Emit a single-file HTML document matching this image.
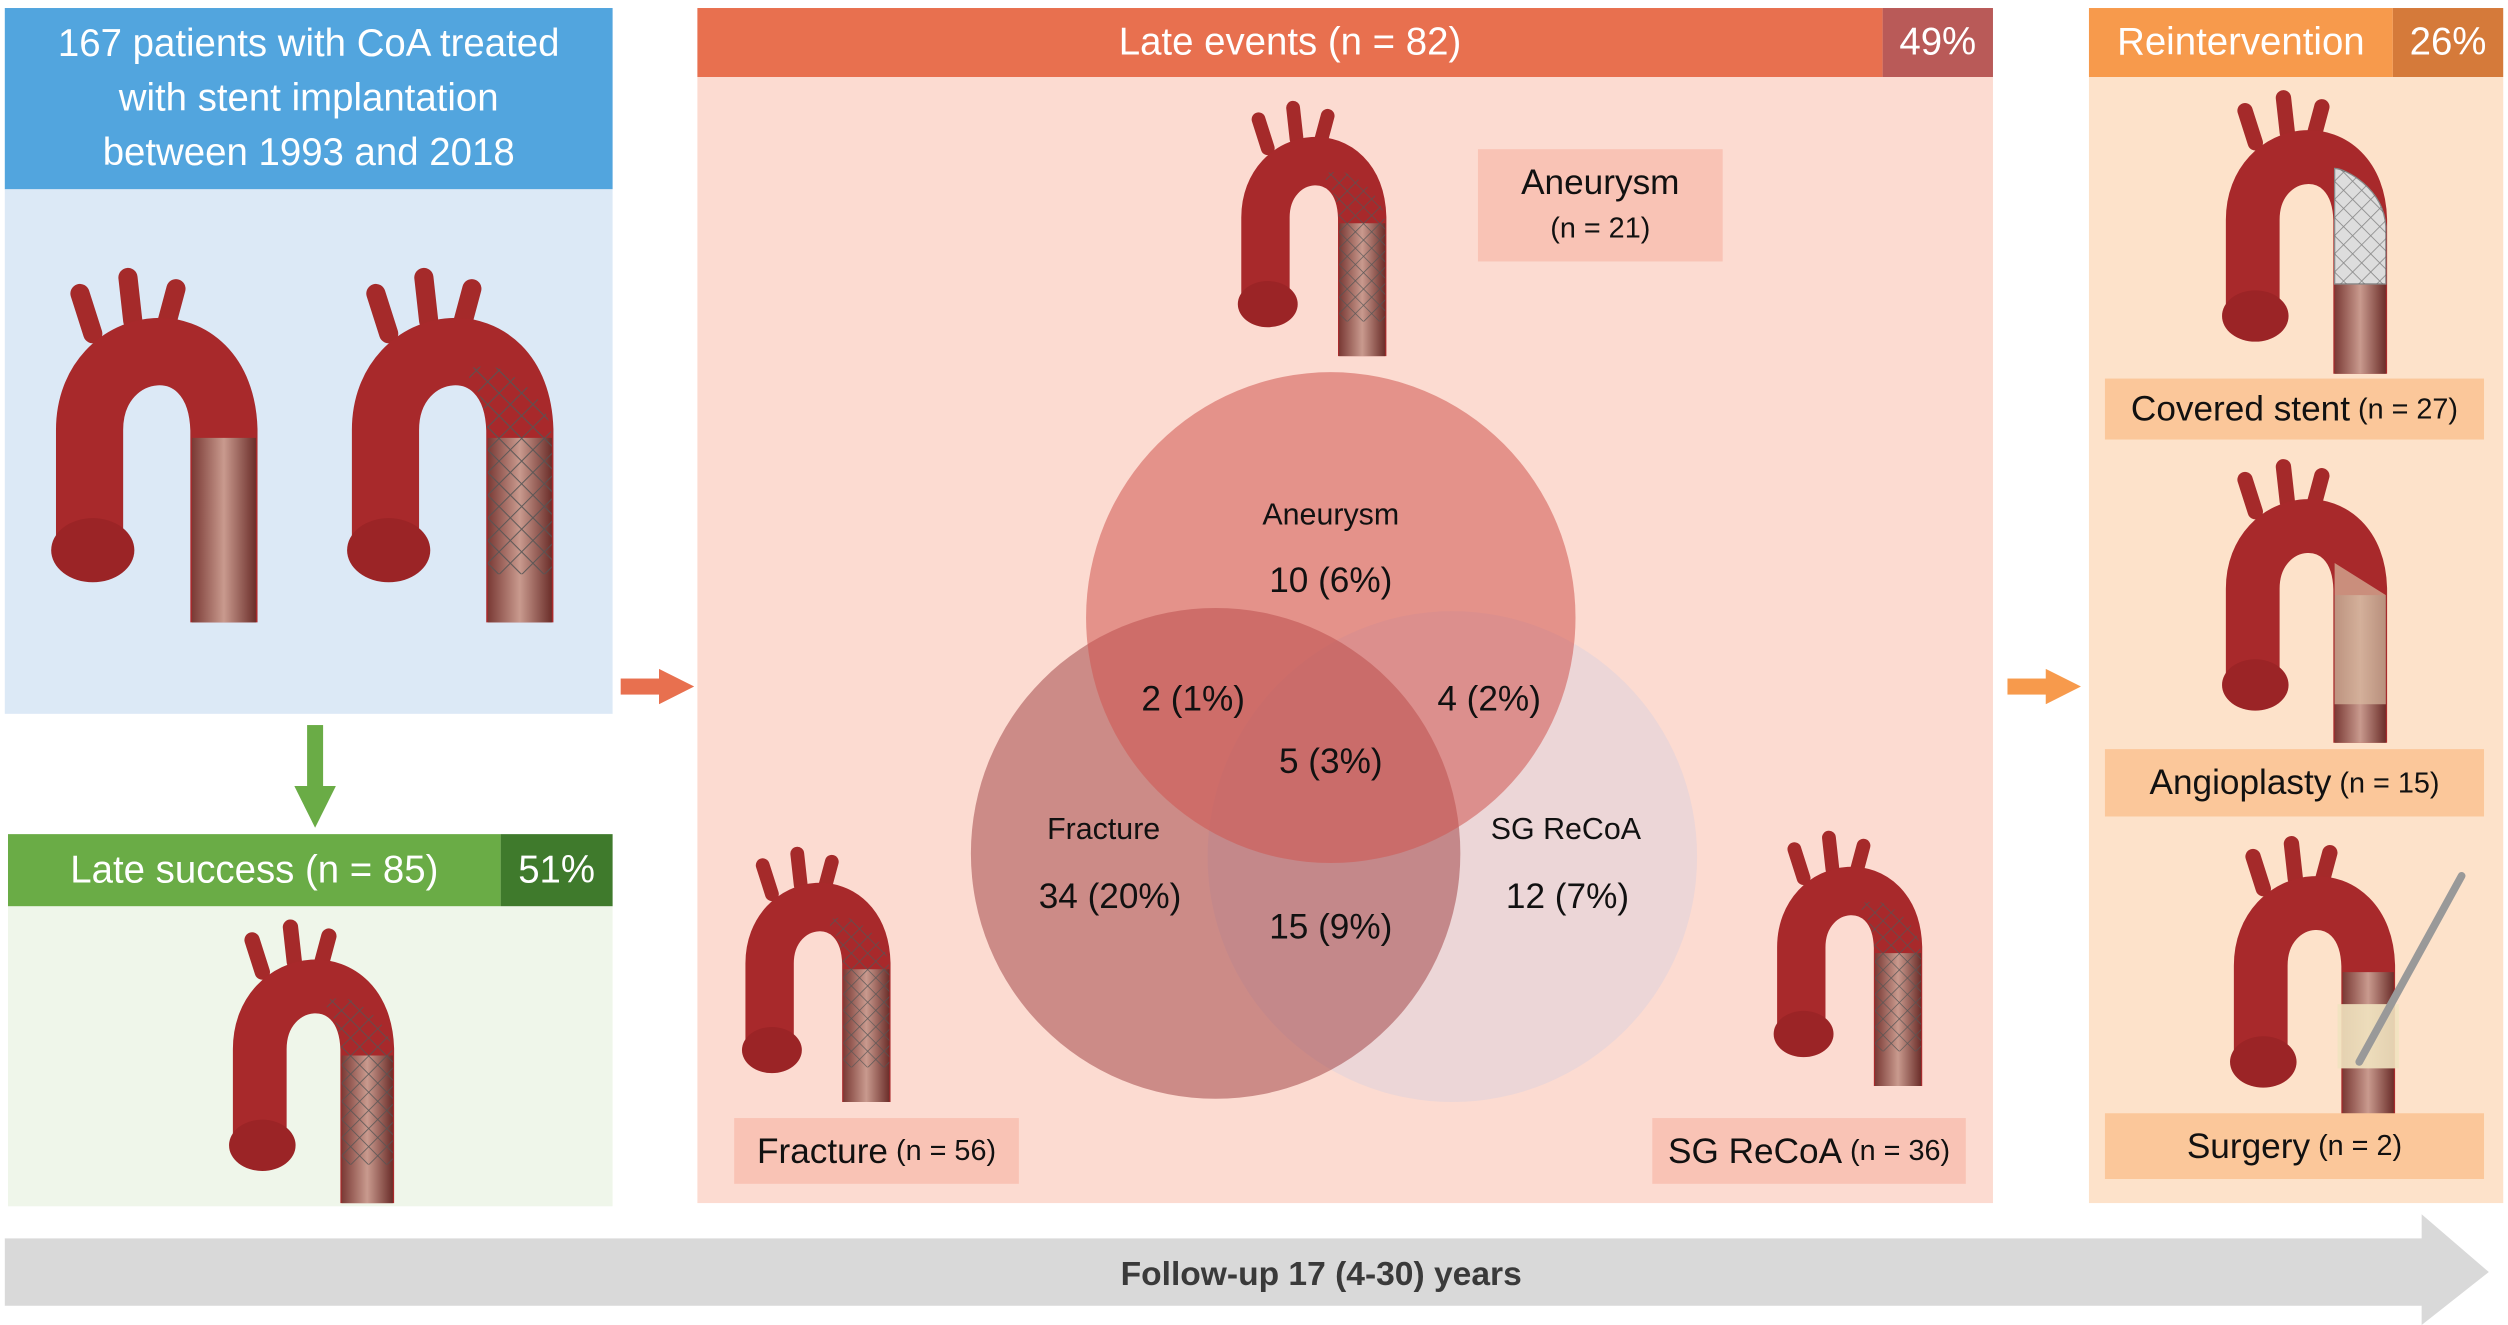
<!DOCTYPE html>
<html><head><meta charset="utf-8">
<style>
html,body{margin:0;padding:0;background:#fff;overflow:hidden}
#root{position:absolute;left:0;top:0;width:1568px;height:826px;transform-origin:0 0;transform:scale(1.5995,1.6041);font-family:"Liberation Sans",sans-serif}
.abs{position:absolute}
.hdr{color:#fff;font-size:24px;display:flex;align-items:center;justify-content:center}
.lbl{position:absolute;background:#f9c3b5;display:flex;align-items:center;justify-content:center;font-size:22px;color:#111}
.lbl small{font-size:18px;margin-left:5px}
.rl{background:#fbc79a}
</style></head><body>
<div id="root">
<svg width="0" height="0" style="position:absolute">
<defs>
<pattern id="mesh" width="10" height="10" patternUnits="userSpaceOnUse" patternTransform="rotate(45)">
<rect width="10" height="10" fill="none"/><path d="M0 0H10M0 0V10" stroke="#555" stroke-width="1.3"/></pattern>
<linearGradient id="desc" x1="0" x2="1"><stop offset="0" stop-color="#7a3a35"/><stop offset=".5" stop-color="#c99a8e"/><stop offset="1" stop-color="#6b2e2a"/></linearGradient>
<g id="aorta">
<path d="M30 20 L22 -5 M55 12 L52 -15 M75 18 L82 -8" stroke="#a52a2a" stroke-width="12" stroke-linecap="round" fill="none"/>
<path d="M28 150 L28 80 C28 20 110 10 112 80 L112 200" stroke="#a8292b" stroke-width="42" fill="none"/>
<ellipse cx="30" cy="155" rx="26" ry="20" fill="#9b2426"/>
<path d="M92 85 L92 200 L132 200 L132 85 Z" fill="url(#desc)"/>
</g>
<g id="aortaS">
<use href="#aorta"/>
<path d="M92 40 C100 40 130 55 132 85 L132 170 L92 170 L92 85 C92 60 80 45 75 42 Z" fill="url(#mesh)" opacity=".9"/>
</g>
</defs></svg>

<!-- left -->
<div class="abs hdr" style="left:3px;top:5px;width:380px;height:113px;background:#52a5de;text-align:center;line-height:34px">167 patients with CoA treated<br>with stent implantation<br>between 1993 and 2018</div>
<div class="abs" style="left:3px;top:118px;width:380px;height:327px;background:#dce9f6">
<svg width="380" height="327"><use href="#aorta" transform="translate(25,70) scale(1.0)"/><use href="#aortaS" transform="translate(210,70) scale(1.0)"/></svg></div>
<svg class="abs" style="left:184px;top:452px" width="26" height="66"><rect x="8" y="0" width="10" height="40" fill="#6aac46"/><path d="M0 38 H26 L13 64 Z" fill="#6aac46"/></svg>
<div class="abs hdr" style="left:5px;top:520px;width:308px;height:45px;background:#6aac46">Late success (n = 85)</div>
<div class="abs hdr" style="left:313px;top:520px;width:70px;height:45px;background:#3f7a2c">51%</div>
<div class="abs" style="left:5px;top:565px;width:378px;height:187px;background:#eff6ea">
<svg width="378" height="187"><use href="#aortaS" transform="translate(135,25) scale(0.8)"/></svg></div>

<svg class="abs" style="left:388px;top:417px" width="46" height="22"><rect x="0" y="6" width="26" height="10" fill="#e8704f"/><path d="M24 0 V22 L46 11 Z" fill="#e8704f"/></svg>

<!-- middle -->
<div class="abs hdr" style="left:436px;top:5px;width:741px;height:43px;background:#e8704f">Late events (n = 82)</div>
<div class="abs hdr" style="left:1177px;top:5px;width:69px;height:43px;background:#b95a58">49%</div>
<div class="abs" style="left:436px;top:48px;width:810px;height:702px;background:#fcdbd1">
<svg width="810" height="702" style="position:absolute;left:0;top:0">
<use href="#aortaS" transform="translate(335,30) scale(0.72)"/>
<use href="#aortaS" transform="translate(25,495) scale(0.72)"/>
<use href="#aortaS" transform="translate(670,485) scale(0.72)"/>
<g>
<circle cx="472" cy="486" r="153" fill="#ead5d7" opacity=".9"/>
<circle cx="324" cy="484" r="153" fill="#a4484b" opacity=".55"/>
<circle cx="396" cy="337" r="153" fill="#cf5551" opacity=".55"/>
</g>
<g font-family="Liberation Sans, sans-serif" fill="#111" text-anchor="middle">
<text x="396" y="279" font-size="19">Aneurysm</text>
<text x="396" y="321" font-size="22">10 (6%)</text>
<text x="310" y="395" font-size="22">2 (1%)</text>
<text x="495" y="395" font-size="22">4 (2%)</text>
<text x="396" y="434" font-size="22">5 (3%)</text>
<text x="254" y="475" font-size="19">Fracture</text>
<text x="258" y="518" font-size="22">34 (20%)</text>
<text x="543" y="475" font-size="19">SG ReCoA</text>
<text x="544" y="518" font-size="22">12 (7%)</text>
<text x="396" y="537" font-size="22">15 (9%)</text>
</g></svg>
</div>
<div class="lbl" style="left:924px;top:93px;width:153px;height:70px;flex-direction:column;line-height:28px"><span>Aneurysm</span><small style="margin:0">(n = 21)</small></div>
<div class="lbl" style="left:459px;top:697px;width:178px;height:41px">Fracture<small>(n = 56)</small></div>
<div class="lbl" style="left:1033px;top:697px;width:196px;height:41px">SG ReCoA<small>(n = 36)</small></div>

<svg class="abs" style="left:1255px;top:417px" width="46" height="22"><rect x="0" y="6" width="26" height="10" fill="#f79a4c"/><path d="M24 0 V22 L46 11 Z" fill="#f79a4c"/></svg>

<!-- right -->
<div class="abs hdr" style="left:1306px;top:5px;width:190px;height:43px;background:#f79a4c">Reintervention</div>
<div class="abs hdr" style="left:1496px;top:5px;width:69px;height:43px;background:#d57a3a">26%</div>
<div class="abs" style="left:1306px;top:48px;width:259px;height:702px;background:#fde2ca">
<svg width="259" height="702">
<g transform="translate(80,25) scale(0.8)"><use href="#aorta"/><path d="M92 40 C100 40 130 55 132 85 L132 130 L92 130 L92 85 Z" fill="#ddd" stroke="#888"/><path d="M92 40 C100 40 130 55 132 85 L132 130 L92 130 L92 85 Z" fill="url(#mesh)" opacity=".6"/></g>
<g transform="translate(80,255) scale(0.8)"><use href="#aorta"/><path d="M92 60 L132 85 L132 170 L92 170 Z" fill="#d8b9a0" opacity=".7"/></g>
<g transform="translate(85,490) scale(0.8)"><use href="#aorta"/><path d="M88 110 h48 v50 h-48z" fill="#f1e3c0" opacity=".9"/><path d="M105 155 L185 10" stroke="#999" stroke-width="6" stroke-linecap="round"/></g>
</svg></div>
<div class="lbl rl" style="left:1316px;top:236px;width:237px;height:38px">Covered stent<small>(n = 27)</small></div>
<div class="lbl rl" style="left:1316px;top:467px;width:237px;height:42px">Angioplasty<small>(n = 15)</small></div>
<div class="lbl rl" style="left:1316px;top:694px;width:237px;height:41px">Surgery<small>(n = 2)</small></div>

<!-- bottom arrow -->
<svg class="abs" style="left:0;top:755px" width="1568" height="71"><path d="M3 17 H1514 V2 L1556 38 L1514 71 V59 H3 Z" fill="#d9d9d9"/>
<text x="826" y="46" text-anchor="middle" font-family="Liberation Sans, sans-serif" font-weight="bold" font-size="21" fill="#3a3a3a">Follow-up 17 (4-30) years</text></svg>
</div>
</body></html>
